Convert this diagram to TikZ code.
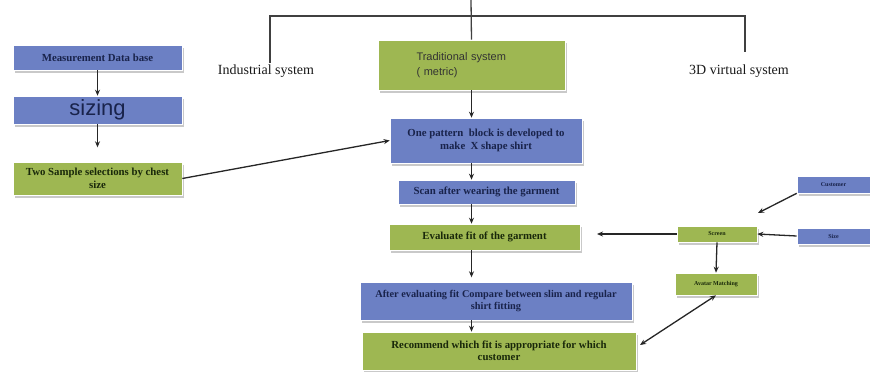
\documentclass[tikz,border=0pt]{standalone}
\usepackage{fontspec}
\setmainfont{Liberation Serif}
\newfontfamily\boxsans{Liberation Sans}
\usetikzlibrary{arrows.meta,shadows}
\definecolor{bluebox}{RGB}{108,128,196}
\definecolor{greenbox}{RGB}{158,183,82}
\definecolor{bluetext}{RGB}{25,35,75}
\definecolor{greentext}{RGB}{25,40,10}
\hyphenpenalty=10000
\exhyphenpenalty=10000
\begin{document}
\begin{tikzpicture}[x=1pt,y=-1pt,
  basebox/.style={draw=white, line width=0.6pt, align=center, inner sep=1pt,
     font=\bfseries\fontsize{10.8}{12.5}\selectfont,
     drop shadow={shadow xshift=2pt,shadow yshift=-3pt,fill=black!35,opacity=0.6}},
  bluebx/.style={basebox, fill=bluebox, text=bluetext},
  greenbx/.style={basebox, fill=greenbox, text=greentext},
  tiny/.style={font=\bfseries\fontsize{6}{7}\selectfont},
  flow/.style={-{Stealth[length=6pt,width=5pt]}, line width=1.3pt, draw=black!85},
  conn/.style={line width=1.3pt, draw=black!75},
  lbl/.style={font=\fontsize{14}{16}\selectfont, text=black!90}
]
\useasboundingbox (0,0) rectangle (870,372);
\fill[white] (0,0) rectangle (870,372);

% left column
\node[bluebx, minimum width=169pt, minimum height=25pt] (mdb) at (97.5,57.5) {Measurement Data base};
\node[bluebx, minimum width=169pt, minimum height=28pt, font=\boxsans\fontsize{22}{22}\selectfont, text=bluetext] (siz) at (97.5,110) {sizing};
\node[greenbx, minimum width=169pt, minimum height=33pt] (two) at (97.5,178.5) {Two Sample selections by chest\\size};

% center column
\node[greenbx, minimum width=187pt, minimum height=50pt, text width=110pt, align=left, font=\boxsans\fontsize{11}{15}\selectfont, text=black!80] (trad) at (471.5,65) {Traditional system\\( metric)};
\node[bluebx, minimum width=192pt, minimum height=45pt] (pat) at (486,140.5) {One pattern\ \ block is developed to\\make\ \ X shape shirt};
\node[bluebx, minimum width=177pt, minimum height=24pt] (scan) at (486.5,192) {Scan after wearing the garment};
\node[greenbx, minimum width=191pt, minimum height=26pt] (eval) at (484.5,237) {Evaluate fit of the garment};
\node[bluebx, minimum width=272pt, minimum height=38pt, font=\bfseries\fontsize{10.3}{12.5}\selectfont] (after) at (496,301) {After evaluating fit Compare between slim and regular\\shirt fitting};
\node[greenbx, minimum width=274pt, minimum height=38pt] (rec) at (499,351) {Recommend which fit is appropriate for which\\customer};

% right group
\node[greenbx, tiny, minimum width=80pt, minimum height=16pt] (scr) at (717,234) {Screen};
\node[greenbx, tiny, minimum width=82pt, minimum height=22pt] (vis) at (716,284) {Avatar Matching};
\node[bluebx, tiny, minimum width=73pt, minimum height=17pt] (cust) at (833.5,184.5) {Customer};
\node[bluebx, tiny, minimum width=73pt, minimum height=16pt] (sz) at (833.5,236) {Size};

% labels
\node[lbl] (ind) at (266,71) {Industrial system};
\node[lbl] (v3d) at (739,71) {3D virtual system};

% tree lines
\coordinate (top) at (471,0);
\coordinate (bar) at (471,16);
\coordinate (indtop) at (270,63);
\coordinate (v3dtop) at (745,52);
\draw[conn] (top) -- (trad.north);
\draw[conn] (indtop) |- (bar) -| (v3dtop);

% flow arrows
\draw[flow] (mdb) -- (siz);
\draw[flow] (siz.south) -- ++(0,23) coordinate (sizend);
\draw[flow] (trad.south) -- (trad.south |- pat.north);
\draw[flow] (trad.south |- pat.south) -- (trad.south |- scan.north);
\draw[flow] (trad.south |- scan.south) -- (trad.south |- eval.north);
\draw[flow] (trad.south |- eval.south) -- ++(0,27);
\draw[flow] (trad.south |- after.south) -- (trad.south |- rec.north);
\draw[flow] (two.east) -- (pat.west);

\coordinate (evalend) at (597,234);
\draw[flow] (scr.west) -- (evalend);
\draw[flow] (sz.west) -- (scr.east);
\coordinate (custend) at (758,213);
\draw[flow] (cust.south west) -- (custend);
\draw[flow] (scr.south) -- (vis.north);
\coordinate (recend) at (640,345);
\draw[flow,{Stealth[length=6pt,width=5pt]}-{Stealth[length=6pt,width=5pt]}] (recend) -- (vis.south);
\end{tikzpicture}
\end{document}
